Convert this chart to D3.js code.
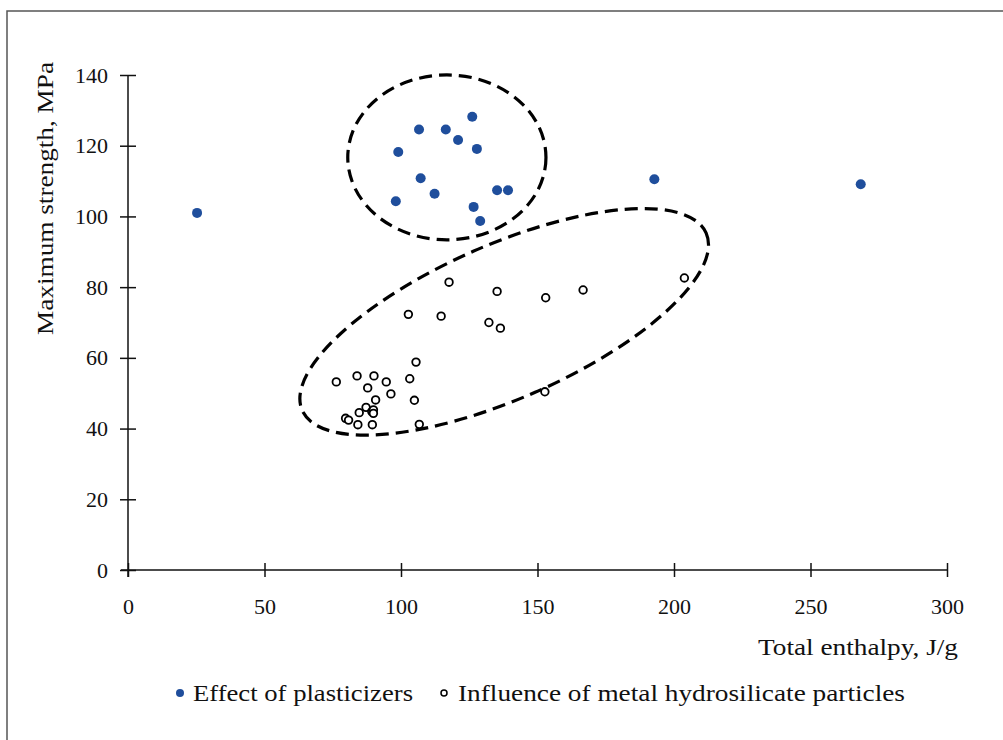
<!DOCTYPE html>
<html>
<head>
<meta charset="utf-8">
<script src="https://cdn.jsdelivr.net/npm/d3@7"></script>
<style>
  body { margin: 0; background: #fff; }
  text { font-family: "Liberation Serif", "Times New Roman", serif; fill: #111; }
</style>
</head>
<body>
<div id="chart-container"></div>
<script>
// data

// Effect of plasticizers (filled blue)
const plastX = [25.3, 99.0, 98.1, 106.6, 107.2, 112.3, 116.4, 120.9, 126.1, 127.8, 126.6, 129.0, 135.2, 139.2, 192.8, 268.4];
const plastY = [101.0, 118.2, 104.3, 124.6, 110.8, 106.4, 124.6, 121.6, 128.2, 119.1, 102.7, 98.7, 107.4, 107.4, 110.5, 109.1];

// Influence of metal hydrosilicate particles (open circles)
const metalX = [76.3, 79.7, 80.8, 83.9, 84.2, 84.7, 87.2, 87.8, 89.3, 89.5, 89.9, 89.9, 90.1, 90.7, 94.6, 96.3,
                102.7, 103.2, 104.9, 105.5, 106.7, 114.7, 117.6, 132.2, 135.2, 136.4, 152.7, 153.0, 166.7, 203.8];
const metalY = [53.2, 42.9, 42.4, 54.9, 41.1, 44.5, 46.0, 51.5, 44.8, 41.1, 45.3, 44.3, 54.9, 48.1, 53.2, 49.8,
                72.3, 54.1, 48.0, 58.8, 41.2, 71.8, 81.4, 70.0, 78.8, 68.4, 50.4, 77.0, 79.2, 82.6];

// dashed grouping ellipses: centre (data units), semi-axes (x units), rotation in degrees
const ellCx = [116.8, 137.8];
const ellCy = [116.7, 70.2];
const ellRx = [36.3, 80.8];
const ellRy = [30.2, 28.2];
const ellRot = [0, -23.7];

const xTicks = [0, 50, 100, 150, 200, 250, 300];
const yTicks = [0, 20, 40, 60, 80, 100, 120, 140];

const seriesNames = ["Effect of plasticizers", "Influence of metal hydrosilicate particles"];

const W = 1003, H = 740;
const margin = {top: 75, right: 56, bottom: 170, left: 128};

const x = d3.scaleLinear().domain([0, 300]).range([margin.left, W - margin.right]);
const y = d3.scaleLinear().domain([0, 140]).range([H - margin.bottom, margin.top]);

const svg = d3.select("#chart-container")
  .append("svg")
  .attr("width", W)
  .attr("height", H);

// outer frame (left and top edges only visible)
svg.append("rect")
  .attr("x", 7).attr("y", 11)
  .attr("width", W + 20).attr("height", H + 20)
  .attr("fill", "none")
  .attr("stroke", "#555")
  .attr("stroke-width", 1.5);

// x axis, ticks crossing the line
const gx = svg.append("g")
  .attr("transform", `translate(0,${y(0)})`)
  .call(d3.axisBottom(x).tickValues(xTicks).tickSizeOuter(0).tickSize(7).tickPadding(21));
gx.select(".domain").attr("d", `M${x(0) - 7},0H${x(300)}`);
gx.selectAll(".tick line").attr("y1", -7).attr("y2", 7);

// y axis
const gy = svg.append("g")
  .attr("transform", `translate(${x(0)},0)`)
  .call(d3.axisLeft(y).tickValues(yTicks).tickSizeOuter(0).tickSize(8).tickPadding(12));
gy.select(".domain").attr("d", `M0,${y(140)}V${y(0) + 7}`);
gy.selectAll(".tick line").attr("x1", 8).attr("x2", -8);

[gx, gy].forEach(g => {
  g.select(".domain").attr("stroke", "#111").attr("stroke-width", 1.5);
  g.selectAll(".tick line").attr("stroke", "#111").attr("stroke-width", 1.5);
  g.selectAll(".tick text")
    .style("font-family", "Liberation Serif, serif")
    .style("font-size", "22px")
    .attr("fill", "#111");
});

// axis titles
svg.append("text")
  .attr("x", x(300) + 11)
  .attr("y", 655)
  .attr("text-anchor", "end")
  .attr("textLength", 200)
  .attr("lengthAdjust", "spacingAndGlyphs")
  .style("font-size", "23px")
  .text("Total enthalpy, J/g");

svg.append("text")
  .attr("transform", `translate(53,${(62 + 335) / 2}) rotate(-90)`)
  .attr("text-anchor", "middle")
  .attr("textLength", 273)
  .attr("lengthAdjust", "spacingAndGlyphs")
  .style("font-size", "23px")
  .text("Maximum strength, MPa");

// ellipses
const ellipses = ellCx.map((cx, i) => ({cx, cy: ellCy[i], rx: ellRx[i], ry: ellRy[i], rot: ellRot[i]}));
svg.append("g")
  .selectAll("ellipse")
  .data(ellipses)
  .join("ellipse")
  .attr("transform", d => `translate(${x(d.cx)},${y(d.cy)}) rotate(${d.rot})`)
  .attr("rx", d => x(d.rx) - x(0))
  .attr("ry", d => x(d.ry) - x(0))
  .attr("fill", "none")
  .attr("stroke", "#000")
  .attr("stroke-width", 3.2)
  .attr("stroke-dasharray", "13,7");

// open circles
const metal = metalX.map((v, i) => ({x: v, y: metalY[i]}));
svg.append("g")
  .selectAll("circle")
  .data(metal)
  .join("circle")
  .attr("cx", d => x(d.x))
  .attr("cy", d => y(d.y))
  .attr("r", 3.8)
  .attr("fill", "#fff")
  .attr("stroke", "#000")
  .attr("stroke-width", 1.8);

// filled blue points
const plast = plastX.map((v, i) => ({x: v, y: plastY[i]}));
svg.append("g")
  .selectAll("circle")
  .data(plast)
  .join("circle")
  .attr("cx", d => x(d.x))
  .attr("cy", d => y(d.y))
  .attr("r", 5)
  .attr("fill", "#1f4e9c");

// legend
const legend = svg.append("g").attr("transform", "translate(0,693)");
legend.append("circle").attr("cx", 180).attr("cy", 0).attr("r", 4).attr("fill", "#1f4e9c");
legend.append("text").attr("x", 193).attr("y", 8)
  .attr("textLength", 220).attr("lengthAdjust", "spacingAndGlyphs")
  .style("font-size", "23px").text(seriesNames[0]);
legend.append("circle").attr("cx", 444).attr("cy", 0).attr("r", 3).attr("fill", "#fff")
  .attr("stroke", "#000").attr("stroke-width", 1.5);
legend.append("text").attr("x", 458).attr("y", 8)
  .attr("textLength", 447).attr("lengthAdjust", "spacingAndGlyphs")
  .style("font-size", "23px").text(seriesNames[1]);
</script>
</body>
</html>
